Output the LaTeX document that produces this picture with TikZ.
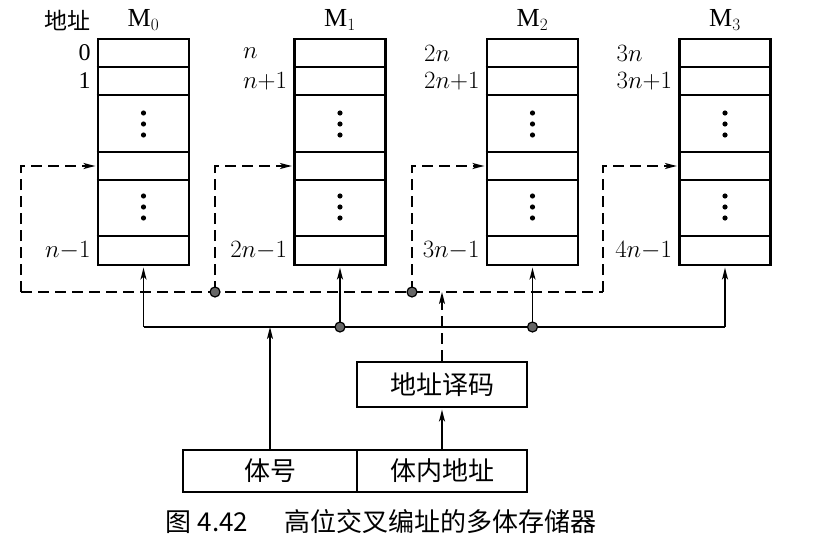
\documentclass[tikz,border=0pt]{standalone}
\usepackage{fontspec}
\setmainfont{Liberation Serif}
\newfontfamily\cjk{Noto Sans CJK SC}
\usetikzlibrary{arrows.meta,positioning}
\tikzset{
  bank/.style={draw,line width=2.6pt,minimum width=91pt,minimum height=226pt,inner sep=0pt},
  unit/.style={draw,line width=2.6pt,inner sep=0pt,font=\cjk\fontsize{26}{30}\selectfont},
  addr/.style={font=\fontsize{24}{26}\selectfont,inner sep=0pt},
  tip/.style={-{Stealth[length=12pt,width=6pt,inset=3pt]}},
  bus/.style={line width=1.5pt},
  dbus/.style={line width=1.8pt,dash pattern=on 11pt off 6pt},
  jn/.style={circle,fill=black!60,draw=black,line width=1.2pt,minimum size=10pt,inner sep=0pt},
}
\begin{document}
\begin{tikzpicture}[x=1pt,y=-1pt]
\useasboundingbox (0,0) rectangle (815,554);
\node[font=\cjk\fontsize{23}{26}\selectfont] (dz) at (68,20) {地址};
\foreach \i/\x/\d/\ta/\tb/\tc in {0/143.5/21/0/1/{$n{-}1$},
    1/340/215/{$n$}/{$n{+}1$}/{$2n{-}1$},
    2/532.5/412/{$2n$}/{$2n{+}1$}/{$3n{-}1$},
    3/725/603/{$3n$}/{$3n{+}1$}/{$4n{-}1$}}{
  \node[bank] (m\i) at (\x,152) {};
  \node[font=\fontsize{26}{28}\selectfont,above=4pt of m\i] (mt\i) {M$_\i$};
  \foreach \y in {67,95,152,180,236}
    \draw[line width=2pt] (m\i.west |- 0,\y) -- (m\i.east |- 0,\y);
  \foreach \y in {113,124,135,196,207,218}
    \fill (m\i |- 0,\y) circle (2.6pt);
  \node[addr,anchor=east] (lb\i) at ([xshift=-6pt]m\i.west |- 0,81) {\tb};
  \node[addr,anchor=west] (la\i) at (lb\i.west |- 0,53) {\ta};
  \node[addr,anchor=east] (lc\i) at ([xshift=-6pt]m\i.west |- 0,251) {\tc};
  \coordinate (r\i) at (m\i.west |- 0,166);
  \coordinate (d\i) at (\d,292);
  \coordinate (b\i) at (m\i.south |- 0,327);
  \draw[dbus,tip,shorten >=1.3pt] (d\i) |- (r\i);
  \draw[bus,tip,shorten >=1.3pt] (b\i) -- (m\i.south);
}
\draw[dbus] (d0) -- (d3);
\draw[bus] (b0) -- (b3);
\node[jn] (j1) at (d1) {};
\node[jn] (j2) at (d2) {};
\node[jn] (j3) at (b1) {};
\node[jn] (j4) at (b2) {};
\node[unit,minimum width=170pt,minimum height=45pt] (dec) at (442,384.5) {地址译码};
\node[unit,minimum width=174pt,minimum height=42pt] (tihao) at (270,471) {体号};
\node[unit,minimum width=170pt,minimum height=42pt] (tinei) at (442,471) {体内地址};
\draw[bus,tip,shorten >=1.3pt] (tinei) -- (dec);
\draw[dbus,tip] (dec) -- (dec |- d0);
\draw[bus,tip] (tihao) -- (tihao |- b0);
\node[font=\cjk\fontsize{26}{30}\selectfont] (cap) at (381,522) {图 4.42\hspace{36pt}高位交叉编址的多体存储器};
\end{tikzpicture}
\end{document}
